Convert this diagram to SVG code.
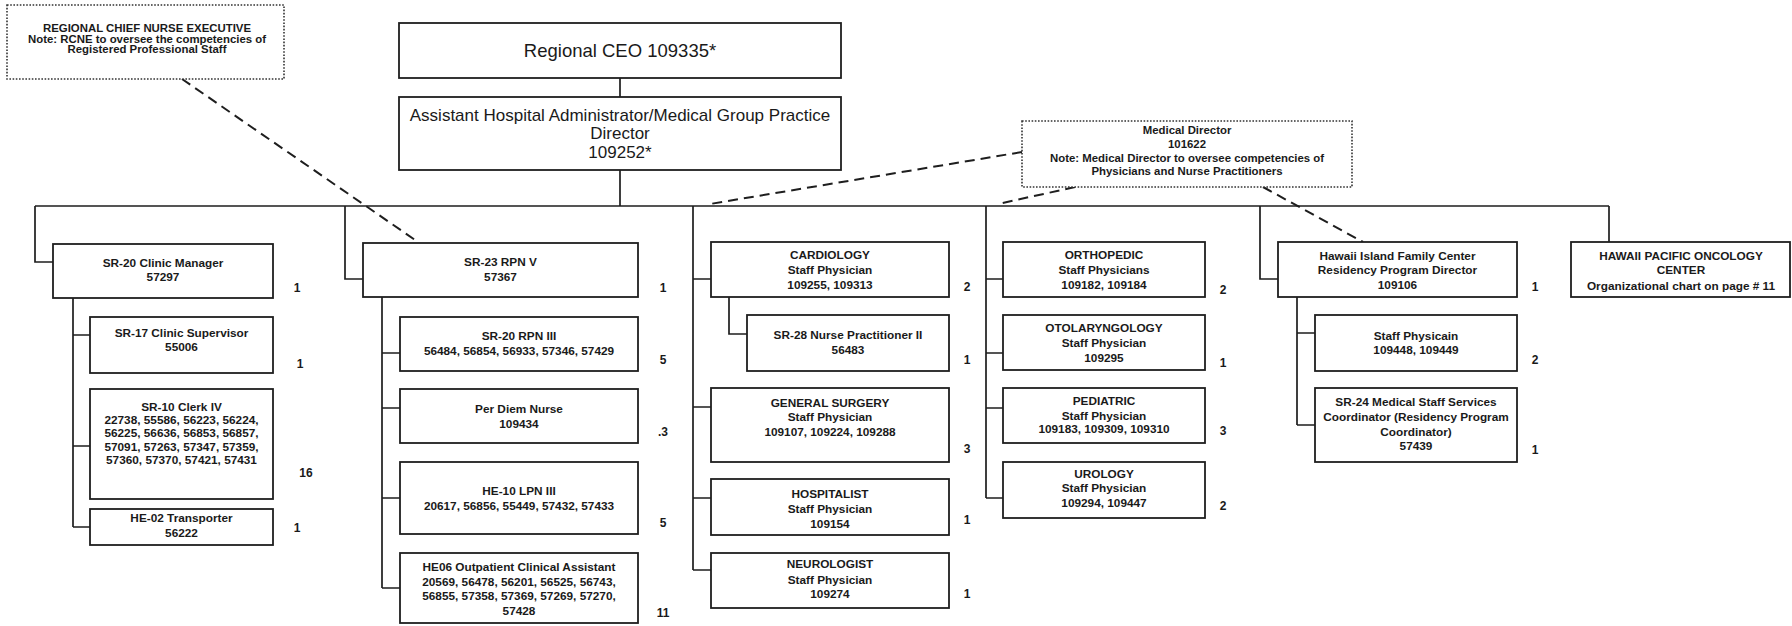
<svg xmlns="http://www.w3.org/2000/svg" width="1792" height="626" viewBox="0 0 1792 626">
<style>
.box{fill:#fff;stroke:#1e1e1e;stroke-width:1.8}
.note{fill:#fff;stroke:#333;stroke-width:1.6;stroke-dasharray:1.6 1.6}
.ln{fill:none;stroke:#1e1e1e;stroke-width:1.7}
.dl{fill:none;stroke:#1e1e1e;stroke-width:2;stroke-dasharray:10 6}
text{font-family:"Liberation Sans",Arial,sans-serif;fill:#1a1a1a;text-anchor:middle}
.t{font-weight:bold;font-size:11.8px}
.n{font-weight:bold;font-size:11.4px}
.c{font-weight:bold;font-size:12px}
.big{font-size:18.5px}
.mid{font-size:17px}
</style>
<rect width="1792" height="626" fill="#fff"/>
<g id="connectors">
<path class="ln" d="M620 78V97M620 170V206M35 206H1609"/>
<path class="ln" d="M35 206V262H53M73 298V527M73 335H90M73 446H90M73 527H90"/>
<path class="ln" d="M345 206V279H363M382 297V588M382 353H400M382 408H400M382 498H400M382 588H400"/>
<path class="ln" d="M693 206V570M693 279H711M693 407H711M693 498H711M693 570H711M729 297V334H747"/>
<path class="ln" d="M986 206V498M986 279H1003M986 353H1003M986 408H1003M986 498H1003"/>
<path class="ln" d="M1260 206V279H1278M1297 297V425M1297 333H1315M1297 425H1315"/>
<path class="ln" d="M1609 206V242"/>
<path class="dl" d="M182 79L418 242"/>
<path class="dl" d="M1022 152L710 204"/>
<path class="dl" d="M1075 187L998 204"/>
<path class="dl" d="M1263 187L1363 242"/>
</g>
<g id="rcne"><rect class="note" x="7" y="5" width="277" height="74"/>
<text class="n" x="147" y="32">REGIONAL CHIEF NURSE EXECUTIVE</text>
<text class="n" x="147" y="42.5">Note: RCNE to oversee the competencies of</text>
<text class="n" x="147" y="53">Registered Professional Staff</text></g>
<g id="ceo"><rect class="box" x="399" y="23" width="442" height="55"/>
<text class="big" x="620" y="57">Regional CEO 109335*</text></g>
<g id="aha"><rect class="box" x="399" y="97" width="442" height="73"/>
<text class="mid" x="620" y="121">Assistant Hospital Administrator/Medical Group Practice</text>
<text class="mid" x="620" y="139">Director</text>
<text class="mid" x="620" y="158">109252*</text></g>
<g id="md"><rect class="note" x="1022" y="121" width="330" height="66"/>
<text class="n" x="1187" y="134">Medical Director</text>
<text class="n" x="1187" y="148">101622</text>
<text class="n" x="1187" y="162">Note:  Medical Director to oversee competencies of</text>
<text class="n" x="1187" y="175">Physicians and Nurse Practitioners</text></g>

<g id="clinic-manager"><rect class="box" x="53" y="244" width="220" height="54"/>
<text class="t" x="163" y="267">SR-20 Clinic Manager</text><text class="t" x="163" y="281">57297</text>
<text class="c" x="297" y="292">1</text></g>
<g id="clinic-supervisor"><rect class="box" x="90" y="317" width="183" height="56"/>
<text class="t" x="181.5" y="337">SR-17 Clinic Supervisor</text><text class="t" x="181.5" y="351">55006</text>
<text class="c" x="300" y="368">1</text></g>
<g id="clerk"><rect class="box" x="90" y="389" width="183" height="110"/>
<text class="t" x="181.5" y="411">SR-10 Clerk IV</text>
<text class="t" x="181.5" y="424">22738, 55586, 56223, 56224,</text>
<text class="t" x="181.5" y="437">56225, 56636, 56853, 56857,</text>
<text class="t" x="181.5" y="451">57091, 57263, 57347, 57359,</text>
<text class="t" x="181.5" y="464">57360, 57370, 57421, 57431</text>
<text class="c" x="306" y="477">16</text></g>
<g id="transporter"><rect class="box" x="90" y="509" width="183" height="36"/>
<text class="t" x="181.5" y="522">HE-02 Transporter</text><text class="t" x="181.5" y="537">56222</text>
<text class="c" x="297" y="532">1</text></g>

<g id="rpn5"><rect class="box" x="363" y="243" width="275" height="54"/>
<text class="t" x="500.5" y="266">SR-23 RPN V</text><text class="t" x="500.5" y="281">57367</text>
<text class="c" x="663" y="292">1</text></g>
<g id="rpn3"><rect class="box" x="400" y="317" width="238" height="54"/>
<text class="t" x="519" y="340">SR-20 RPN III</text><text class="t" x="519" y="355">56484, 56854, 56933, 57346, 57429</text>
<text class="c" x="663" y="364">5</text></g>
<g id="perdiem"><rect class="box" x="400" y="389" width="238" height="54"/>
<text class="t" x="519" y="413">Per Diem Nurse</text><text class="t" x="519" y="428">109434</text>
<text class="c" x="663" y="436">.3</text></g>
<g id="lpn3"><rect class="box" x="400" y="462" width="238" height="72"/>
<text class="t" x="519" y="495">HE-10 LPN III</text><text class="t" x="519" y="510">20617, 56856, 55449, 57432, 57433</text>
<text class="c" x="663" y="527">5</text></g>
<g id="he06"><rect class="box" x="400" y="553" width="238" height="70"/>
<text class="t" x="519" y="571">HE06 Outpatient Clinical Assistant</text>
<text class="t" x="519" y="586">20569, 56478, 56201, 56525, 56743,</text>
<text class="t" x="519" y="600">56855, 57358, 57369, 57269, 57270,</text>
<text class="t" x="519" y="615">57428</text>
<text class="c" x="663" y="617">11</text></g>

<g id="cardiology"><rect class="box" x="711" y="242" width="238" height="55"/>
<text class="t" x="830" y="259">CARDIOLOGY</text><text class="t" x="830" y="274">Staff Physician</text><text class="t" x="830" y="289">109255, 109313</text>
<text class="c" x="967" y="291">2</text></g>
<g id="np"><rect class="box" x="747" y="315" width="202" height="56"/>
<text class="t" x="848" y="339">SR-28 Nurse Practitioner II</text><text class="t" x="848" y="354">56483</text>
<text class="c" x="967" y="364">1</text></g>
<g id="gensurg"><rect class="box" x="711" y="388" width="238" height="74"/>
<text class="t" x="830" y="407">GENERAL SURGERY</text><text class="t" x="830" y="421">Staff Physician</text><text class="t" x="830" y="436">109107,  109224, 109288</text>
<text class="c" x="967" y="453">3</text></g>
<g id="hospitalist"><rect class="box" x="711" y="479" width="238" height="56"/>
<text class="t" x="830" y="498">HOSPITALIST</text><text class="t" x="830" y="513">Staff Physician</text><text class="t" x="830" y="528">109154</text>
<text class="c" x="967" y="524">1</text></g>
<g id="neurologist"><rect class="box" x="711" y="553" width="238" height="55"/>
<text class="t" x="830" y="568">NEUROLOGIST</text><text class="t" x="830" y="584">Staff Physician</text><text class="t" x="830" y="598">109274</text>
<text class="c" x="967" y="598">1</text></g>

<g id="orthopedic"><rect class="box" x="1003" y="242" width="202" height="55"/>
<text class="t" x="1104" y="259">ORTHOPEDIC</text><text class="t" x="1104" y="274">Staff Physicians</text><text class="t" x="1104" y="289">109182, 109184</text>
<text class="c" x="1223" y="294">2</text></g>
<g id="oto"><rect class="box" x="1003" y="315" width="202" height="55"/>
<text class="t" x="1104" y="332">OTOLARYNGOLOGY</text><text class="t" x="1104" y="347">Staff Physician</text><text class="t" x="1104" y="362">109295</text>
<text class="c" x="1223" y="367">1</text></g>
<g id="pediatric"><rect class="box" x="1003" y="388" width="202" height="55"/>
<text class="t" x="1104" y="405">PEDIATRIC</text><text class="t" x="1104" y="420">Staff Physician</text><text class="t" x="1104" y="433">109183, 109309, 109310</text>
<text class="c" x="1223" y="435">3</text></g>
<g id="urology"><rect class="box" x="1003" y="462" width="202" height="56"/>
<text class="t" x="1104" y="478">UROLOGY</text><text class="t" x="1104" y="492">Staff Physician</text><text class="t" x="1104" y="507">109294, 109447</text>
<text class="c" x="1223" y="510">2</text></g>

<g id="hifc"><rect class="box" x="1278" y="242" width="239" height="55"/>
<text class="t" x="1397.5" y="260">Hawaii Island Family Center</text><text class="t" x="1397.5" y="274">Residency Program Director</text><text class="t" x="1397.5" y="289">109106</text>
<text class="c" x="1535" y="291">1</text></g>
<g id="staffphys"><rect class="box" x="1315" y="315" width="202" height="56"/>
<text class="t" x="1416" y="340">Staff Physicain</text><text class="t" x="1416" y="354">109448, 109449</text>
<text class="c" x="1535" y="364">2</text></g>
<g id="sr24"><rect class="box" x="1315" y="388" width="202" height="74"/>
<text class="t" x="1416" y="406">SR-24 Medical Staff Services</text><text class="t" x="1416" y="421">Coordinator (Residency Program</text><text class="t" x="1416" y="436">Coordinator)</text><text class="t" x="1416" y="450">57439</text>
<text class="c" x="1535" y="454">1</text></g>

<g id="oncology"><rect class="box" x="1571" y="242" width="219" height="55"/>
<text class="t" x="1681" y="260">HAWAII PACIFIC ONCOLOGY</text><text class="t" x="1681" y="274">CENTER</text><text class="t" x="1681" y="290">Organizational chart on page # 11</text></g>
</svg>
